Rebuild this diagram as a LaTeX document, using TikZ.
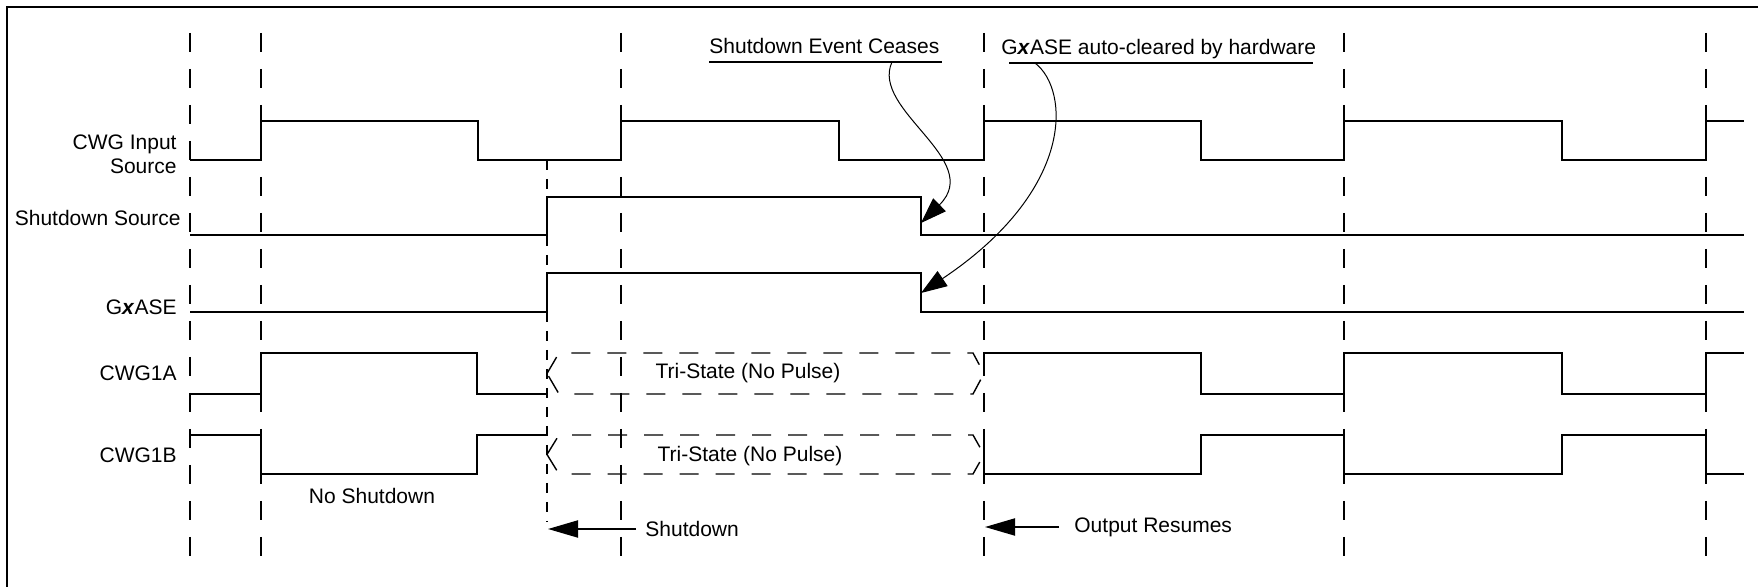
\documentclass[tikz,border=0pt]{standalone}
\usepackage{fontspec}
\setmainfont{Liberation Sans}
\usetikzlibrary{arrows.meta}

\begin{document}
\begin{tikzpicture}[x=0.5pt, y=-0.5pt,
  every node/.style={font=\fontsize{10.5}{12}\selectfont, inner sep=0pt},
  senal/.style={line width=1pt},
  guia/.style={line width=0.9pt, dash pattern=on 9.5pt off 8.5pt},
  guiacorte/.style={line width=0.8pt, dash pattern=on 5pt off 4.5pt},
  tri/.style={line width=0.7pt, dash pattern=on 9.5pt off 8.5pt},
  subr/.style={line width=1pt},
  flecha/.style={line width=0.5pt, -{Triangle[length=13pt,width=9pt]}},
  flechah/.style={line width=1pt, -{Triangle[length=15pt,width=8.5pt]}}]
  \useasboundingbox (0,0) rectangle (1758,587);
  % Marco
  \draw[line width=1.25pt] (7,587) -- (7,7) -- (1758,7);
  % Lineas guia
  \foreach \x in {190,261,621,984,1344,1706} {
    \draw[guia] (\x,33) -- (\x,560);
  }
  \draw[guiacorte] (547,160) -- (547,522);
  % Nombres de las senales
  \node[anchor=east, align=right] (lblin) at (177,154) {CWG Input\\Source};
  \node[anchor=east] (lblsd) at (181,218) {Shutdown Source};
  \node[anchor=east] (lblgx) at (177,307) {G\textbf{\textit{x}}ASE};
  \node[anchor=east] (lbla) at (177,373) {CWG1A};
  \node[anchor=east] (lblb) at (177,455) {CWG1B};
  % Senales
  \draw[senal] (190,160) -| (261,121) -| (478,160) -| (621,121) -| (839,160) -| (984,121)
    -| (1201,160) -| (1344,121) -| (1562,160) -| (1706,121) -- (1744,121);
  \draw[senal] (190,235) -| (547,197) -| (921,235) -- (1744,235);
  \draw[senal] (190,312) -| (547,273) -| (921,312) -- (1744,312);
  \draw[senal] (190,394) -| (261,353) -| (477,394) -- (547,394);
  \draw[senal] (984,373) -- (984,353) -| (1201,394) -| (1344,353) -| (1562,394) -| (1706,353) -- (1744,353);
  \draw[senal] (190,435) -| (261,474) -| (477,435) -- (547,435);
  \draw[senal] (984,437) -- (984,474) -| (1201,435) -| (1344,474) -| (1562,435) -| (1706,474) -- (1744,474);
  % Tri-estado
  \draw[tri] (547,373.5) -- (559,353) -- (973,353) -- (984,373.5) -- (973,394) -- (559,394) -- cycle;
  \draw[tri] (547,454.5) -- (559,435) -- (973,435) -- (984,454.5) -- (973,474) -- (559,474) -- cycle;
  \node (tria) at (748,373) {Tri-State (No Pulse)};
  \node (trib) at (750,456) {Tri-State (No Pulse)};
  \node (nosd) at (372,496) {No Shutdown};
  % Anotaciones superiores
  \node[anchor=south west, inner ysep=4pt, text depth=0pt] (ceases) at (709,62) {Shutdown Event Ceases};
  \draw[subr] (ceases.south west) -- ([xshift=1pt]ceases.south east);
  \node[anchor=south west, inner ysep=4pt, text depth=0pt] (autoclr) at (1001,63) {G\textbf{\textit{x}}ASE auto-cleared by hardware};
  \draw[subr] ([xshift=4pt]autoclr.south west) -- ([xshift=-2pt]autoclr.south east);
  \coordinate (c1) at (892,62);
  \coordinate (c2) at (1035,63);
  \coordinate (sdfall) at (921,223);
  \coordinate (gxfall) at (921,293);
  \draw[flecha] (c1) .. controls (870,110) and (985,160) .. (sdfall);
  \draw[flecha] (c2) .. controls (1070,90) and (1075,190) .. (gxfall);
  % Flechas inferiores
  \node[anchor=west] (sdlbl) at (645,529) {Shutdown};
  \node[anchor=west] (orlbl) at (1074,527) {Output Resumes};
  \coordinate (sdtip) at (548,529);
  \coordinate (ortip) at (985,527);
  \draw[flechah] ([xshift=-4.5pt]sdlbl.west) -- (sdtip);
  \draw[flechah] ([xshift=-7.5pt]orlbl.west) -- (ortip);
\end{tikzpicture}
\end{document}
